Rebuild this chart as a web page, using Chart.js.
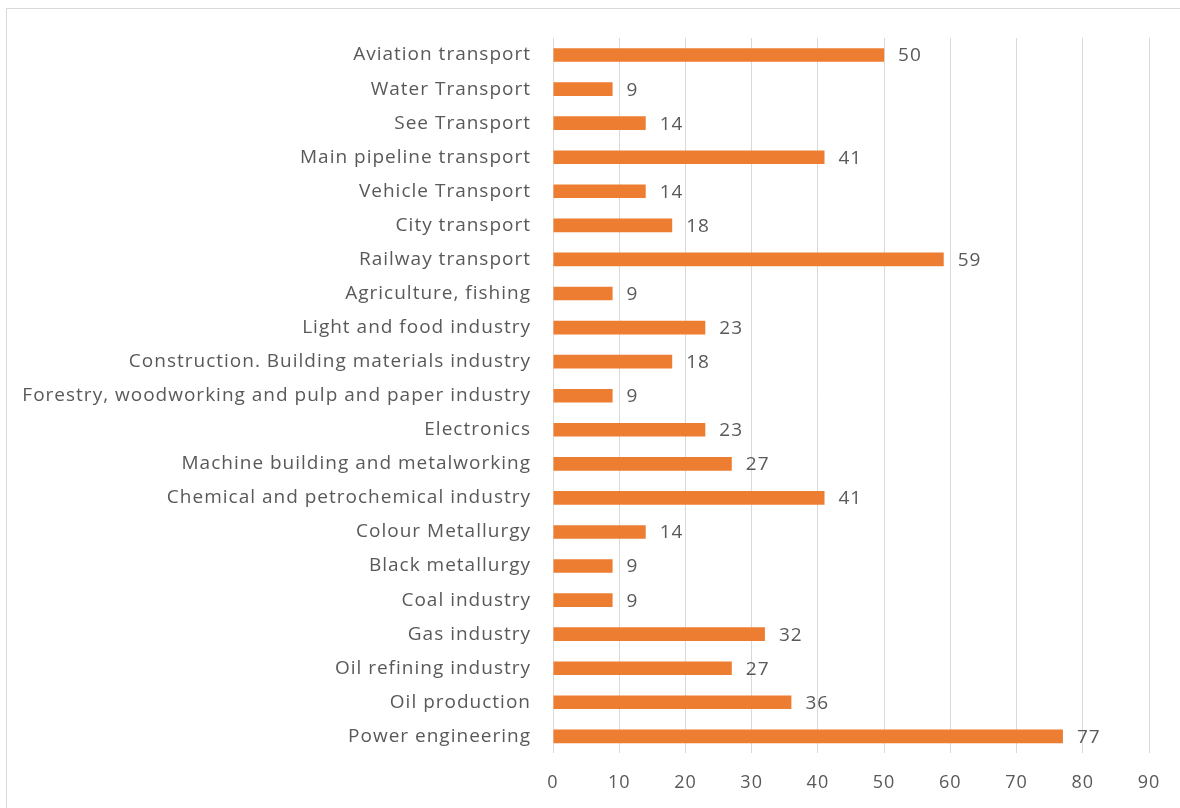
<!DOCTYPE html>
<html>
<head>
<meta charset="utf-8">
<script src="https://cdn.jsdelivr.net/npm/chart.js@4"></script>
<style>
  html, body { margin: 0; padding: 0; background: #fff; overflow: hidden; }
  #frame { position: absolute; left: 6px; top: 8px; width: 1200px; height: 840px; border: 1px solid #d9d9d9; }
  #wrap { position: absolute; left: 0; top: 0; width: 1180px; height: 808px; }
</style>
</head>
<body>
<div id="frame"></div>
<div id="wrap"><canvas id="myChart" width="1180" height="808"></canvas></div>
<script>
const industries = [
    "Aviation transport", "Water Transport", "See Transport", "Main pipeline transport",
    "Vehicle Transport", "City transport", "Railway transport", "Agriculture, fishing",
    "Light and food industry", "Construction. Building materials industry",
    "Forestry, woodworking and pulp and paper industry", "Electronics",
    "Machine building and metalworking", "Chemical and petrochemical industry",
    "Colour Metallurgy", "Black metallurgy", "Coal industry", "Gas industry",
    "Oil refining industry", "Oil production", "Power engineering"
];
const counts = [50, 9, 14, 41, 14, 18, 59, 9, 23, 18, 9, 23, 27, 41, 14, 9, 9, 32, 27, 36, 77];
const xTicks = [0, 10, 20, 30, 40, 50, 60, 70, 80, 90];

const textColor = "#595959";
const fontFamily = "'Open Sans', sans-serif";
const fontSize = 19;

// the original text is set a little wider than Open Sans
const spacing = {
    id: "spacing",
    beforeDraw(chart) { chart.ctx.letterSpacing = "1px"; }
};

// draws the value next to each bar
const valueLabels = {
    id: "valueLabels",
    afterDatasetsDraw(chart) {
        const ctx = chart.ctx;
        const meta = chart.getDatasetMeta(0);
        ctx.save();
        ctx.fillStyle = textColor;
        ctx.font = fontSize + "px " + fontFamily;
        ctx.textAlign = "left";
        ctx.textBaseline = "middle";
        meta.data.forEach(function (bar, i) {
            ctx.fillText(String(counts[i]), bar.x + 14, bar.y + 1);
        });
        ctx.restore();
    }
};

document.addEventListener("DOMContentLoaded", function () {
    const ctx = document.getElementById("myChart").getContext("2d");
    new Chart(ctx, {
        type: "bar",
        data: {
            labels: industries,
            datasets: [{
                data: counts,
                backgroundColor: "#ED7D31",
                barPercentage: 0.4,
                categoryPercentage: 1.0
            }]
        },
        options: {
            indexAxis: "y",
            responsive: false,
            animation: false,
            layout: { padding: { left: 0, right: 31, top: 38, bottom: -5 } },
            plugins: { legend: { display: false }, tooltip: { enabled: false } },
            scales: {
                x: {
                    min: 0,
                    max: 90,
                    afterBuildTicks: function (scale) {
                        scale.ticks = xTicks.map(function (v) { return { value: v }; });
                    },
                    grid: { color: "#d9d9d9", drawTicks: false },
                    border: { display: false },
                    ticks: { color: textColor, font: { family: fontFamily, size: 18 }, padding: 19 }
                },
                y: {
                    grid: { display: false, drawTicks: false },
                    border: { display: false },
                    ticks: { color: textColor, font: { family: fontFamily, size: fontSize }, padding: 22, autoSkip: false },
                    afterFit: function (scale) { scale.width = 553; }
                }
            }
        },
        plugins: [spacing, valueLabels]
    });
});
</script>
</body>
</html>
